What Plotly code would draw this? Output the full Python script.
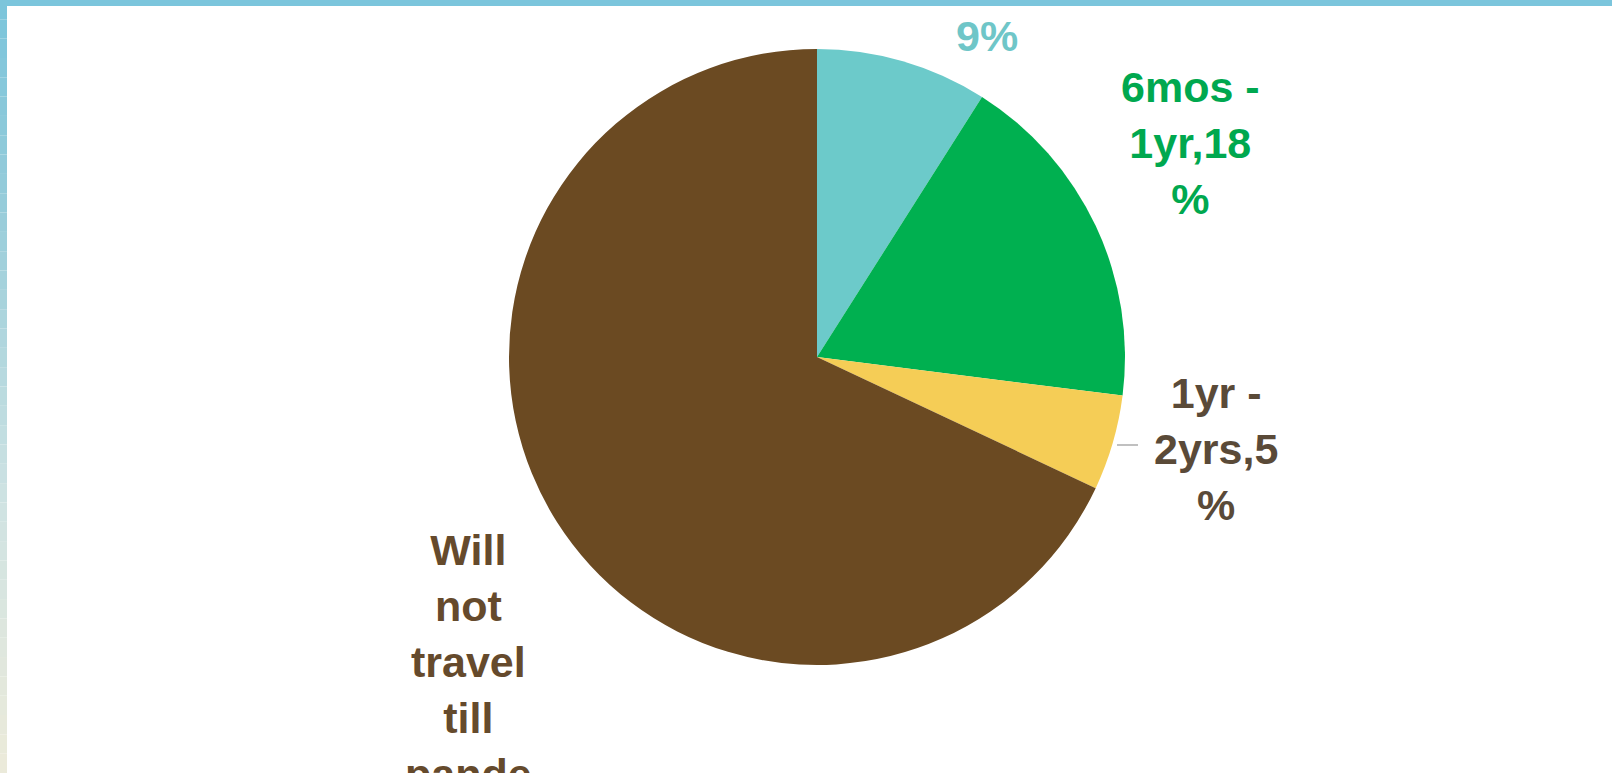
import plotly.graph_objects as go

# ---- data ----
categories = ["0 - 6mos", "6mos - 1yr", "1yr - 2yrs", "Will not travel till pandemic is over"]
values = [9, 18, 5, 68]
slice_colors = ["#6CCACA", "#00B050", "#F5CD56", "#6B4A22"]
label_texts = [
    "9%",
    "6mos -<br>1yr,18<br>%",
    "1yr -<br>2yrs,5<br>%",
    "Will<br>not<br>travel<br>till<br>pande<br>mic is<br>over,6<br>8%",
]
label_colors = ["#6FC6C8", "#00A84F", "#5A4A38", "#654A2C"]

W, H = 1612, 773
FS = 43
LS = FS * 1.3

# pie geometry (pixels)
cx, cy, r = 817, 357, 308

def px(x):
    return x / W

def py(y):
    return 1 - y / H

fig = go.Figure()
fig.add_trace(go.Pie(
    labels=categories,
    values=values,
    sort=False,
    direction="clockwise",
    rotation=0,
    marker=dict(colors=slice_colors, line=dict(width=0)),
    textinfo="none",
    hoverinfo="label+percent",
    showlegend=False,
    domain=dict(x=[px(cx - 400), px(cx + 400)], y=[py(cy + r), py(cy - r)]),
))

# label anchors: (x centre, y centre of first line) in pixels
first_line_pos = [
    (987, 36),
    (1190, 87),
    (1216, 393),
    (468, 550),
]
annotations = []
for txt, col, (lx, ly) in zip(label_texts, label_colors, first_line_pos):
    n = txt.count("<br>") + 1
    yc = ly + (n - 1) * LS / 2
    annotations.append(dict(
        text=txt, x=px(lx), y=py(yc), xref="paper", yref="paper",
        xanchor="center", yanchor="middle", showarrow=False, align="center",
        font=dict(family="Liberation Sans, Arial, sans-serif", size=FS, color=col,
                  weight="bold"),
    ))

# frame bands
shapes = [dict(type="rect", xref="paper", yref="paper", x0=0, x1=1, y0=py(6), y1=1,
               fillcolor="#7BC5DC", line=dict(width=0), layer="above")]
stops = [(0, (123, 197, 220)), (200, (150, 204, 218)), (500, (207, 227, 227)), (773, (237, 235, 218))]
N = 40
for i in range(N):
    y0 = i * H / N
    y1 = (i + 1) * H / N
    ym = (y0 + y1) / 2
    for (a, ca), (b, cb) in zip(stops[:-1], stops[1:]):
        if a <= ym <= b:
            t = (ym - a) / (b - a)
            c = tuple(int(ca[k] + (cb[k] - ca[k]) * t) for k in range(3))
            break
    shapes.append(dict(type="rect", xref="paper", yref="paper", x0=0, x1=px(7),
                       y0=py(y1), y1=py(y0), fillcolor="rgb(%d,%d,%d)" % c,
                       line=dict(width=0), layer="above"))
# leader line for the small slice
shapes.append(dict(type="line", xref="paper", yref="paper", x0=px(1117), x1=px(1138),
                   y0=py(445), y1=py(445), line=dict(color="#C0C0C0", width=2)))

fig.update_layout(
    width=W, height=H,
    margin=dict(l=0, r=0, t=0, b=0),
    paper_bgcolor="white",
    plot_bgcolor="white",
    annotations=annotations,
    shapes=shapes,
)

fig.write_html("out.html", config={"displayModeBar": False},
               post_script="document.body.style.margin='0';")
